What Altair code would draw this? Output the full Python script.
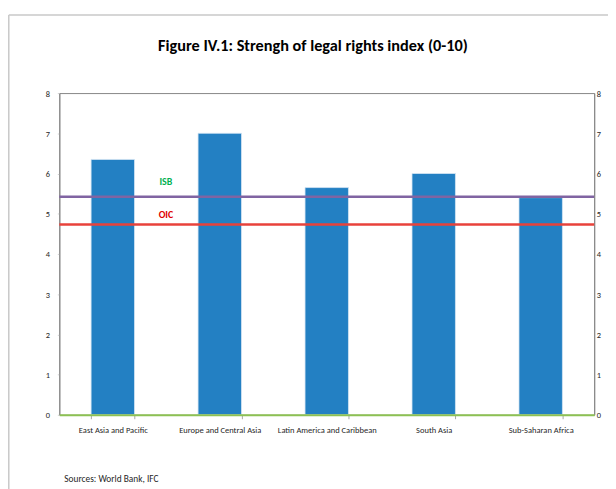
import altair as alt
import pandas as pd

regions = ["East Asia and Pacific", "Europe and Central Asia",
           "Latin America and Caribbean", "South Asia", "Sub-Saharan Africa"]
values = [6.35, 7.0, 5.65, 6.0, 5.4]
ref_names = ["ISB", "OIC"]
ref_values = [5.42, 4.73]
ref_colors = ["#8064A2", "#E8423B"]
label_colors = ["#00B050", "#E00000"]
y_ticks = [0, 1, 2, 3, 4, 5, 6, 7, 8]
title_text = "Figure IV.1: Strengh of legal rights index (0-10)"
source_text = "Sources: World Bank, IFC"

W, H = 542, 326
PL, PT, PR, PB = 52, 83, 14, 72
FONT = "Liberation Sans Narrow, Carlito, Lato, sans-serif"

bars_df = pd.DataFrame({"region": regions, "value": values})
ref_df = pd.DataFrame({"name": ref_names, "v": ref_values,
                       "lc": ref_colors, "tc": label_colors})
one = pd.DataFrame({"k": [0]})

yscale = alt.Scale(domain=[0, 8], nice=False)
xscale = alt.Scale(paddingInner=0.594, paddingOuter=0.297)

bars = alt.Chart(bars_df).mark_bar(color="#2380C3", stroke="#D6E6F4", strokeWidth=0.8).encode(
    x=alt.X("region:N", sort=regions, scale=xscale, title=None,
            axis=alt.Axis(labelAngle=0, labelFont=FONT, labelFontSize=8.6, labelColor="#262626",
                          domainColor="#8DC153", domainWidth=2, tickColor="#A6A6A6",
                          tickSize=4, tickBand="extent", labelPadding=7, zindex=2)),
    y=alt.Y("value:Q", scale=yscale, title=None,
            axis=alt.Axis(values=y_ticks, grid=False, labelFont=FONT, labelFontSize=8.5,
                          labelColor="#262626", domainColor="#868686", tickColor="#D0D0D0",
                          tickSize=2, labelPadding=8, orient="left")),
)

lines = alt.Chart(ref_df).mark_rule(strokeWidth=2.5).encode(
    y=alt.Y("v:Q", scale=yscale,
            axis=alt.Axis(values=y_ticks, grid=False, labelFont=FONT, labelFontSize=8.5,
                          labelColor="#262626", domainColor="#868686", tickColor="#D0D0D0",
                          tickSize=0, labelPadding=2, orient="right", title=None)),
    color=alt.Color("lc:N", scale=None),
)

isb_text = alt.Chart(ref_df.iloc[[0]]).mark_text(
    font=FONT, fontSize=10, fontWeight="bold", dy=-15).encode(
    x=alt.value(108), y=alt.Y("v:Q", scale=yscale, axis=None), text="name:N",
    color=alt.Color("tc:N", scale=None))
oic_text = alt.Chart(ref_df.iloc[[1]]).mark_text(
    font=FONT, fontSize=10, fontWeight="bold", dy=-10).encode(
    x=alt.value(108), y=alt.Y("v:Q", scale=yscale, axis=None), text="name:N",
    color=alt.Color("tc:N", scale=None))

title = alt.Chart(one).mark_text(font=FONT, fontSize=16.5, fontWeight="bold", align="center",
                                 baseline="alphabetic", color="#000000").encode(
    x=alt.value(257), y=alt.value(-43), text=alt.value(title_text))

source = alt.Chart(one).mark_text(font=FONT, fontSize=9.5, align="left",
                                  baseline="alphabetic", color="#262626").encode(
    x=alt.value(5), y=alt.value(394), text=alt.value(source_text))

frame_v = alt.Chart(one).mark_rule(color="#C8C8C8", strokeWidth=1.5).encode(
    x=alt.value(-51.2), y=alt.value(-79), y2=alt.value(H + PB + 20))
frame_h = alt.Chart(one).mark_rule(color="#C8C8C8", strokeWidth=1.5).encode(
    y=alt.value(-79), x=alt.value(-51.2), x2=alt.value(W + PR + 20))

chart = alt.layer(frame_v, frame_h, title, bars, lines, isb_text, oic_text, source).resolve_axis(
    y="independent"
).properties(
    width=W, height=H,
    autosize=alt.AutoSizeParams(type="none"),
    padding={"left": PL, "top": PT, "right": PR, "bottom": PB},
).configure_view(stroke="#868686", strokeWidth=1)

chart.save("out.html", embed_options={"renderer": "svg", "actions": False})
